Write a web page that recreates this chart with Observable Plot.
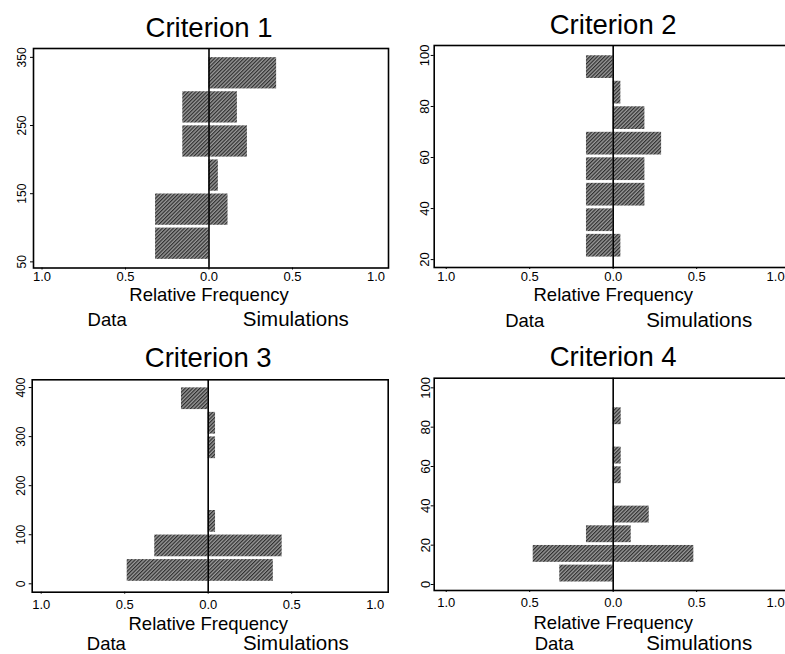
<!DOCTYPE html>
<html><head><meta charset="utf-8">
<script src="https://cdn.jsdelivr.net/npm/d3@7"></script>
<script src="https://cdn.jsdelivr.net/npm/@observablehq/plot@0.6"></script>
<style>
html,body{margin:0;padding:0;background:#fff;overflow:hidden;}
#wrap{position:relative;width:785px;height:654px;overflow:hidden;background:#fff;}
.panel{position:absolute;}
.panel svg{max-width:none !important;}
</style></head><body>
<svg width="0" height="0" style="position:absolute">
<defs>
<pattern id="hatch" width="2.6" height="2.6" patternUnits="userSpaceOnUse" patternTransform="rotate(45)">
<rect width="2.6" height="2.6" fill="#9a9a9a"/>
<line x1="0.6" y1="0" x2="0.6" y2="2.6" stroke="#2e2e2e" stroke-width="1.2"/>
</pattern>
</defs>
</svg>
<div id="wrap"></div>
<script>
// ---- data ----
const titles = ["Criterion 1", "Criterion 2", "Criterion 3", "Criterion 4"];
const binWidths = [50, 10, 50, 10];

const c1Lower = [50, 100, 150, 200, 250, 300];
const c1Data  = [0.32, 0.32, 0, 0.157, 0.157, 0];
const c1Sim   = [0, 0.114, 0.056, 0.23, 0.17, 0.405];
const c1Ticks = [50, 150, 250, 350];

const c2Lower = [20, 30, 40, 50, 60, 70, 80, 90];
const c2Data  = [0.16, 0.16, 0.16, 0.16, 0.16, 0, 0, 0.16];
const c2Sim   = [0.046, 0, 0.19, 0.19, 0.29, 0.19, 0.046, 0];
const c2Ticks = [20, 40, 60, 80, 100];

const c3Lower = [0, 50, 100, 150, 200, 250, 300, 350];
const c3Data  = [0.485, 0.32, 0, 0, 0, 0, 0, 0.16];
const c3Sim   = [0.39, 0.443, 0.044, 0, 0, 0.044, 0.044, 0];
const c3Ticks = [0, 100, 200, 300, 400];

const c4Lower = [0, 10, 20, 30, 40, 50, 60, 70, 80];
const c4Data  = [0.32, 0.479, 0.16, 0, 0, 0, 0, 0, 0];
const c4Sim   = [0, 0.483, 0.108, 0.216, 0, 0.048, 0.048, 0, 0.048];
const c4Ticks = [0, 20, 40, 60, 80, 100];

const xTicks = [-1, -0.5, 0, 0.5, 1];
const sideLabels = ["Data", "Simulations"];
const axisLabel = "Relative Frequency";

// ---- layout (positions/styles) ----
const panels = [
  {lower: c1Lower, data: c1Data, sim: c1Sim, ticks: c1Ticks},
  {lower: c2Lower, data: c2Data, sim: c2Sim, ticks: c2Ticks},
  {lower: c3Lower, data: c3Data, sim: c3Sim, ticks: c3Ticks},
  {lower: c4Lower, data: c4Data, sim: c4Sim, ticks: c4Ticks}
];
const layout = [
  {left: 0, top: 0, width: 392, height: 330, mL: 33, mR: 4, mT: 48, mB: 62.5,
   xd: [-1.051, 1.075], yd: [41, 363], titleDy: -12, rfDy: 32.5, sideDy: 57.5, sideX: [-0.61, 0.52],
   xPad: 2.2, yPad: 5, yFont: 12, lastDx: 0},
  {left: 392, top: 0, width: 400, height: 330, mL: 41.7, mR: 0, mT: 45, mB: 63,
   xd: [-1.072, 1.074], yd: [16.9, 103.9], titleDy: -11.7, rfDy: 33.5, sideDy: 59, sideX: [-0.53, 0.515],
   xPad: 2.2, yPad: 2, yFont: 13, lastDx: -4.5},
  {left: 0, top: 330, width: 392, height: 324, mL: 31.7, mR: 4.3, mT: 49.3, mB: 62.3,
   xd: [-1.054, 1.078], yd: [-17.1, 415.8], titleDy: -12.6, rfDy: 38, sideDy: 57.8, sideX: [-0.61, 0.525],
   xPad: 5.6, yPad: 4.7, yFont: 12, lastDx: 0},
  {left: 392, top: 330, width: 400, height: 324, mL: 41.7, mR: 0, mT: 47.7, mB: 64,
   xd: [-1.072, 1.074], yd: [-3.05, 104.9], titleDy: -12.7, rfDy: 38, sideDy: 59.5, sideX: [-0.353, 0.515],
   xPad: 5.6, yPad: 1.4, yFont: 13, lastDx: -4.5}
];

const wrap = document.getElementById("wrap");
panels.forEach((p, i) => {
  const L = layout[i];
  const w = binWidths[i];
  const rows = [];
  p.lower.forEach((lo, j) => {
    if (p.data[j] > 0) rows.push({y1: lo, y2: lo + w, x1: 0, x2: -p.data[j]});
    if (p.sim[j] > 0) rows.push({y1: lo, y2: lo + w, x1: 0, x2: p.sim[j]});
  });
  const fmt = d => Math.abs(d).toFixed(1);
  const chart = Plot.plot({
    width: L.width, height: L.height,
    marginLeft: L.mL, marginRight: L.mR, marginTop: L.mT, marginBottom: L.mB,
    style: {fontFamily: "'Liberation Sans', Arial, sans-serif", color: "black", background: "transparent", overflow: "visible", maxWidth: "none"},
    x: {domain: L.xd},
    y: {domain: L.yd},
    marks: [
      Plot.rect(rows, {x1: "x1", x2: "x2", y1: "y1", y2: "y2", insetBottom: 2.5, insetTop: 0.3, fill: "url(#hatch)"}),
      Plot.ruleX([0], {stroke: "black", strokeWidth: 1.6}),
      Plot.frame({stroke: "black", strokeWidth: 1.6}),
      Plot.axisX({ticks: xTicks.slice(0, -1), tickFormat: fmt, tickSize: 2, tickPadding: L.xPad, label: null, fontSize: 13}),
      Plot.axisX({ticks: xTicks.slice(-1), tickFormat: fmt, tickSize: 0, tickPadding: L.xPad + 2, dx: L.lastDx, label: null, fontSize: 13}),
      Plot.axisY({ticks: p.ticks, tickFormat: d => String(d), tickRotate: -90, tickSize: 3, tickPadding: L.yPad, label: null, fontSize: L.yFont}),
      Plot.text([titles[i]], {x: 0, frameAnchor: "top", lineAnchor: "bottom", dy: L.titleDy, fontSize: 27.5}),
      Plot.text([axisLabel], {x: 0, frameAnchor: "bottom", lineAnchor: "bottom", dy: L.rfDy, fontSize: 18.5}),
      Plot.text([sideLabels[0]], {x: L.sideX[0], frameAnchor: "bottom", lineAnchor: "bottom", dy: L.sideDy, fontSize: 18.5}),
      Plot.text([sideLabels[1]], {x: L.sideX[1], frameAnchor: "bottom", lineAnchor: "bottom", dy: L.sideDy, fontSize: 20.5})
    ]
  });
  const div = document.createElement("div");
  div.className = "panel";
  div.style.left = L.left + "px";
  div.style.top = L.top + "px";
  div.style.width = L.width + "px";
  div.style.height = L.height + "px";
  div.appendChild(chart);
  wrap.appendChild(div);
});
</script>
</body></html>
